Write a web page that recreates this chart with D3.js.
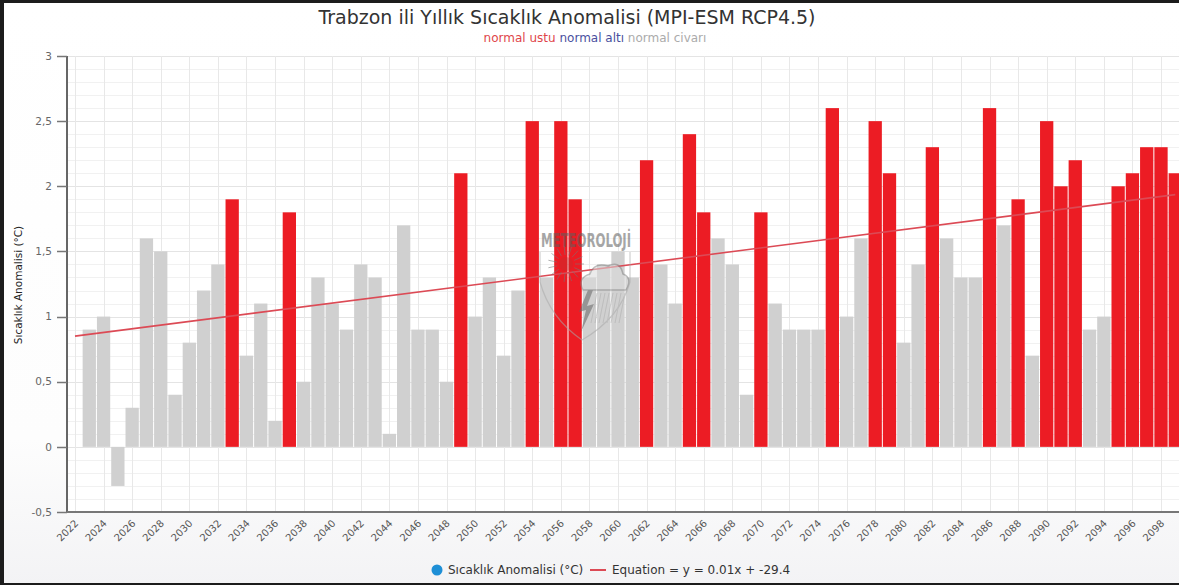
<!DOCTYPE html>
<html>
<head>
<meta charset="utf-8">
<script src="https://cdn.jsdelivr.net/npm/d3@7"></script>
<style>
  html, body { margin: 0; padding: 0; overflow: hidden; background: #fff; }
  svg { display: block; font-family: "DejaVu Sans", "Open Sans", sans-serif; }
</style>
</head>
<body>
<svg id="chart" width="1179" height="585"></svg>
<script>
// Yearly temperature anomaly projections for Trabzon (MPI-ESM, RCP4.5)
const years = [
  2023, 2024, 2025, 2026, 2027, 2028, 2029, 2030, 2031, 2032,
  2033, 2034, 2035, 2036, 2037, 2038, 2039, 2040, 2041, 2042,
  2043, 2044, 2045, 2046, 2047, 2048, 2049, 2050, 2051, 2052,
  2053, 2054, 2055, 2056, 2057, 2058, 2059, 2060, 2061, 2062,
  2063, 2064, 2065, 2066, 2067, 2068, 2069, 2070, 2071, 2072,
  2073, 2074, 2075, 2076, 2077, 2078, 2079, 2080, 2081, 2082,
  2083, 2084, 2085, 2086, 2087, 2088, 2089, 2090, 2091, 2092,
  2093, 2094, 2095, 2096, 2097, 2098, 2099
];
const anomalies = [
  0.9, 1.0, -0.3, 0.3, 1.6, 1.5, 0.4, 0.8, 1.2, 1.4,
  1.9, 0.7, 1.1, 0.2, 1.8, 0.5, 1.3, 1.1, 0.9, 1.4,
  1.3, 0.1, 1.7, 0.9, 0.9, 0.5, 2.1, 1.0, 1.3, 0.7,
  1.2, 2.5, 1.3, 2.5, 1.9, 1.3, 1.4, 1.5, 1.3, 2.2,
  1.4, 1.1, 2.4, 1.8, 1.6, 1.4, 0.4, 1.8, 1.1, 0.9,
  0.9, 0.9, 2.6, 1.0, 1.6, 2.5, 2.1, 0.8, 1.4, 2.3,
  1.6, 1.3, 1.3, 2.6, 1.7, 1.9, 0.7, 2.5, 2.0, 2.2,
  0.9, 1.0, 2.0, 2.1, 2.3, 2.3, 2.1
];
const xTickYears = [
  2022, 2024, 2026, 2028, 2030, 2032, 2034, 2036, 2038, 2040,
  2042, 2044, 2046, 2048, 2050, 2052, 2054, 2056, 2058, 2060,
  2062, 2064, 2066, 2068, 2070, 2072, 2074, 2076, 2078, 2080,
  2082, 2084, 2086, 2088, 2090, 2092, 2094, 2096, 2098
];
const yTickValues = [-0.5, 0, 0.5, 1, 1.5, 2, 2.5, 3];
const yTickLabels = ["-0,5", "0", "0,5", "1", "1,5", "2", "2,5", "3"];
const classNames = ["normal ustu", "normal altı", "normal civarı"];
const trendRange = [2022, 2099];

const titleText = "Trabzon ili Yıllık Sıcaklık Anomalisi (MPI-ESM RCP4.5)";
const yTitleText = "Sıcaklık Anomalisi (°C)";
const seriesName = "Sıcaklık Anomalisi (°C)";
const equationText = "Equation = y = 0.01x + -29.4";

// Styling
const classColors = { "normal ustu": "#ec1c24", "normal altı": "#3a3f9e", "normal civarı": "#d0d0d0" };
const subtitleColors = ["#e0454a", "#4a4f9e", "#ababab"];
const upperThreshold = 1.8;

const W = 1179, H = 585;
const plot = { left: 67, top: 56, bottom: 512, right: 1185 };

const svg = d3.select("#chart");

// Background with a faint downward fade
const defs = svg.append("defs");
const grad = defs.append("linearGradient").attr("id", "bg").attr("x1", 0).attr("y1", 0).attr("x2", 0).attr("y2", 1);
grad.append("stop").attr("offset", "0%").attr("stop-color", "#ffffff");
grad.append("stop").attr("offset", "75%").attr("stop-color", "#fdfdfd");
grad.append("stop").attr("offset", "100%").attr("stop-color", "#f3f3f5");
svg.append("rect").attr("width", W).attr("height", H).attr("fill", "url(#bg)");
svg.append("rect").attr("x", plot.left).attr("y", plot.top)
  .attr("width", plot.right - plot.left).attr("height", plot.bottom - plot.top).attr("fill", "#fff");

// Scales
const x = d3.scaleLinear().domain([2022, 2098]).range([75, 1161]);
const y = d3.scaleLinear().domain([-0.5, 3]).range([plot.bottom, plot.top]);
const step = x(2023) - x(2022);

// Grid: minor horizontal lines every 0.1, major every 0.5, vertical every 2 years
const gridG = svg.append("g");
gridG.selectAll("line.minor").data(d3.range(-0.4, 3.0, 0.1).filter(v => Math.abs(v * 2 - Math.round(v * 2)) > 1e-6))
  .join("line")
  .attr("x1", plot.left).attr("x2", plot.right)
  .attr("y1", d => Math.round(y(d)) + 0.5).attr("y2", d => Math.round(y(d)) + 0.5)
  .attr("stroke", "#f1f1f1").attr("stroke-width", 1);
gridG.selectAll("line.major").data(yTickValues)
  .join("line")
  .attr("x1", plot.left).attr("x2", plot.right)
  .attr("y1", d => Math.round(y(d)) + 0.5).attr("y2", d => Math.round(y(d)) + 0.5)
  .attr("stroke", "#e4e4e4").attr("stroke-width", 1);
gridG.selectAll("line.vert").data(xTickYears)
  .join("line")
  .attr("x1", d => Math.round(x(d)) + 0.5).attr("x2", d => Math.round(x(d)) + 0.5)
  .attr("y1", plot.top).attr("y2", plot.bottom)
  .attr("stroke", "#e8e8e8").attr("stroke-width", 1);

// Bars
const barData = years.map((yr, i) => ({
  year: yr,
  value: anomalies[i],
  cls: anomalies[i] >= upperThreshold ? classNames[0] : classNames[2]
}));
svg.append("g").selectAll("rect").data(barData).join("rect")
  .attr("x", d => x(d.year) - step / 2 + 0.5)
  .attr("width", step - 1)
  .attr("y", d => Math.min(y(d.value), y(0)))
  .attr("height", d => Math.abs(y(d.value) - y(0)))
  .attr("fill", d => classColors[d.cls]);

// Least-squares trend line
const mx = d3.mean(years), my = d3.mean(anomalies);
const slope = d3.sum(years.map((v, i) => (v - mx) * (anomalies[i] - my))) / d3.sum(years.map(v => (v - mx) ** 2));
const intercept = my - slope * mx;
const trendPts = trendRange.map(v => [v, intercept + slope * v]);
svg.append("path")
  .attr("d", d3.line().x(d => x(d[0])).y(d => y(d[1]))(trendPts))
  .attr("fill", "none").attr("stroke", "#dc4a55").attr("stroke-width", 1.6);

// Translucent watermark logo over the plot
const wm = svg.append("g").attr("opacity", 0.55).attr("transform", "translate(586,0)");
wm.append("text").attr("text-anchor", "middle")
  .attr("transform", "translate(0,247) scale(1,1.45)")
  .attr("font-family", "'DejaVu Sans Condensed', 'DejaVu Sans', sans-serif")
  .attr("font-weight", "bold").attr("font-size", 13).attr("fill", "#5e5e5e")
  .text("METEOROLOJİ");
wm.append("path").attr("d", "M-46,252 L-46,282 Q-36,318 -4,340 Q34,318 44,282 L44,252")
  .attr("fill", "none").attr("stroke", "#aaa").attr("stroke-width", 1.2);
// sun burst
wm.append("circle").attr("cx", -20).attr("cy", 264).attr("r", 7).attr("fill", "#b33").attr("opacity", 0.6);
d3.range(0, 360, 24).forEach(a => {
  const r = a * Math.PI / 180;
  wm.append("line").attr("x1", -20 + Math.cos(r) * 9).attr("y1", 264 + Math.sin(r) * 9)
    .attr("x2", -20 + Math.cos(r) * 18).attr("y2", 264 + Math.sin(r) * 18)
    .attr("stroke", "#777").attr("stroke-width", 1);
});
// cloud
wm.append("path").attr("d", "M-3,290 Q-9,278 4,274 Q8,262 22,266 Q34,260 37,274 Q47,278 40,290 Z")
  .attr("fill", "#dcdcdc").attr("stroke", "#888").attr("stroke-width", 1.5);
// rain streaks
d3.range(0, 8).forEach(i => {
  wm.append("line").attr("x1", 11 + i * 4).attr("y1", 293).attr("x2", 5 + i * 4).attr("y2", 323)
    .attr("stroke", "#b0b0b0").attr("stroke-width", 1);
});
// lightning bolt
wm.append("path").attr("d", "M2,290 L-7,312 L0,310 L-5,332 L8,304 L1,306 L7,290 Z")
  .attr("fill", "#666");

// Axes
svg.append("line").attr("x1", plot.left).attr("x2", plot.left).attr("y1", plot.top).attr("y2", plot.bottom + 1)
  .attr("stroke", "#666").attr("stroke-width", 2);
svg.append("line").attr("x1", plot.left).attr("x2", W).attr("y1", plot.bottom).attr("y2", plot.bottom)
  .attr("stroke", "#777").attr("stroke-width", 2);

const yAxisG = svg.append("g");
yAxisG.selectAll("line").data(yTickValues).join("line")
  .attr("x1", plot.left - 10).attr("x2", plot.left)
  .attr("y1", d => Math.round(y(d)) + 0.5).attr("y2", d => Math.round(y(d)) + 0.5)
  .attr("stroke", "#777").attr("stroke-width", 1.5);
yAxisG.selectAll("text").data(yTickValues).join("text")
  .attr("x", plot.left - 15).attr("y", d => y(d)).attr("dy", "0.35em")
  .attr("text-anchor", "end").attr("font-size", 10.5).attr("fill", "#666")
  .text((d, i) => yTickLabels[i]);

svg.append("g").selectAll("text").data(xTickYears).join("text")
  .attr("transform", d => `translate(${x(d) + 4},${plot.bottom + 12}) rotate(-45)`)
  .attr("text-anchor", "end").attr("font-size", 10).attr("fill", "#555")
  .text(d => d);

// Axis title
svg.append("text").attr("transform", "translate(22,285) rotate(-90)")
  .attr("text-anchor", "middle").attr("font-size", 10.5).attr("fill", "#222")
  .text(yTitleText);

// Title and class subtitle
svg.append("text").attr("x", 567).attr("y", 24).attr("text-anchor", "middle")
  .attr("font-size", 19).attr("fill", "#333").text(titleText);
const sub = svg.append("text").attr("x", 595).attr("y", 42).attr("text-anchor", "middle").attr("font-size", 12);
classNames.forEach((c, i) => {
  sub.append("tspan").attr("fill", subtitleColors[i]).text((i ? " " : "") + c);
});

// Legend
const lg = svg.append("g").attr("font-size", 12).attr("fill", "#333");
lg.append("circle").attr("cx", 437).attr("cy", 570).attr("r", 5.5).attr("fill", "#1e8fd6");
lg.append("text").attr("x", 448).attr("y", 574).text(seriesName);
lg.append("line").attr("x1", 590).attr("x2", 606).attr("y1", 570).attr("y2", 570)
  .attr("stroke", "#dc4a55").attr("stroke-width", 2);
lg.append("text").attr("x", 612).attr("y", 574).text(equationText);

// Frame edges
svg.append("rect").attr("x", 0).attr("y", 0).attr("width", 4).attr("height", H).attr("fill", "#1c1c1c");
svg.append("rect").attr("x", 0).attr("y", 0).attr("width", W).attr("height", 3).attr("fill", "#1c1c1c");
svg.append("rect").attr("x", 0).attr("y", H - 2).attr("width", W).attr("height", 2).attr("fill", "#1c1c1c");
</script>
</body>
</html>
